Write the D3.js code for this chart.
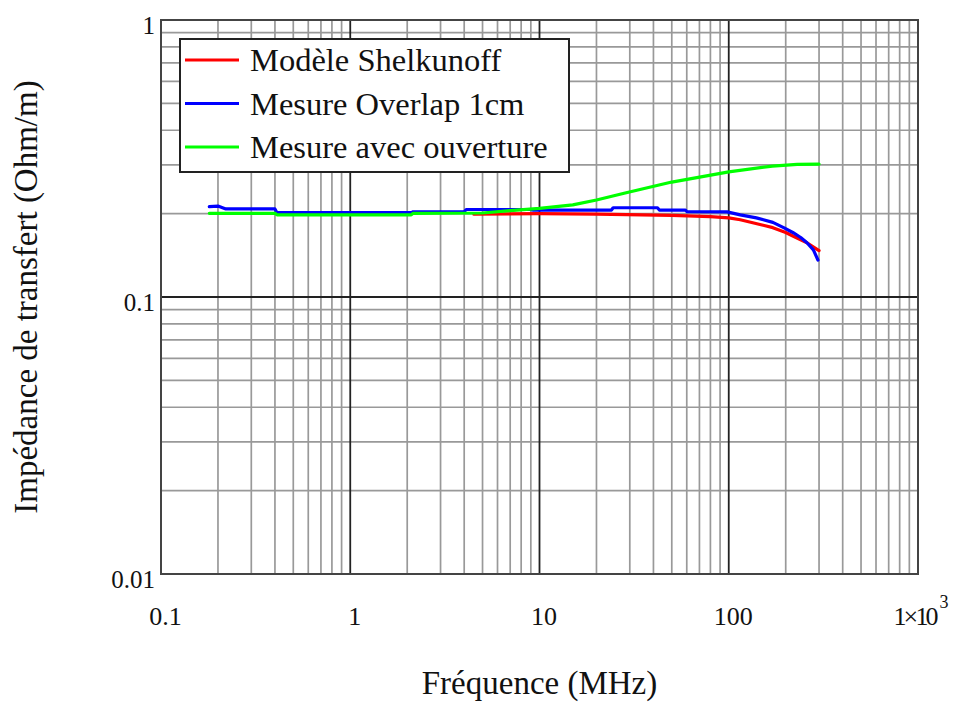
<!DOCTYPE html>
<html>
<head>
<meta charset="utf-8">
<script src="https://cdn.jsdelivr.net/npm/d3@7"></script>
<style>
  html, body { margin: 0; padding: 0; background: #fff; }
  svg { display: block; font-family: "Liberation Serif", "Times New Roman", serif; }
</style>
</head>
<body>
<svg id="chart" width="960" height="702"></svg>
<script>
// ---- Data ----
const seriesNames = ["Modèle Shelkunoff", "Mesure Overlap 1cm", "Mesure avec ouverture"];
const seriesColors = ["#ff0000", "#0000ff", "#00ff00"];

// Modèle Shelkunoff (red)
const freqRed = [4.5, 10, 20, 50, 80, 100, 115, 150, 171, 200, 218, 259, 300];
const zRed    = [0.199, 0.200, 0.199, 0.197, 0.195, 0.193, 0.190, 0.182, 0.178, 0.171, 0.166, 0.157, 0.147];

// Mesure Overlap 1cm (blue)
const freqBlue = [0.18, 0.2, 0.22, 0.4, 0.41, 2.1, 2.15, 4.0, 4.1, 9.0, 9.2, 24, 24.5, 42, 43, 59, 60, 98, 115, 140, 171, 195, 218, 240, 259, 280, 296];
const zBlue    = [0.212, 0.213, 0.208, 0.208, 0.2015, 0.2015, 0.203, 0.203, 0.207, 0.207, 0.206, 0.206, 0.210, 0.210, 0.206, 0.206, 0.2035, 0.2030, 0.198, 0.193, 0.186, 0.178, 0.171, 0.164, 0.157, 0.148, 0.136];

// Mesure avec ouverture (green)
const freqGreen = [0.18, 0.4, 0.41, 2.1, 2.15, 5, 7, 10, 15, 20, 28, 50, 100, 170, 230, 300];
const zGreen    = [0.2005, 0.2005, 0.198, 0.198, 0.2005, 0.201, 0.205, 0.209, 0.215, 0.224, 0.237, 0.260, 0.283, 0.297, 0.301, 0.302];

// Tick labels
const xTickValues = [0.1, 1, 10, 100, 1000];
const xTickLabels = ["0.1", "1", "10", "100", "1×10"];
const xLastExponent = "3";
const yTickValues = [0.01, 0.1, 1];
const yTickLabels = ["0.01", "0.1", "1"];

const xTitle = "Fréquence (MHz)";
const yTitle = "Impédance de transfert (Ohm/m)";

// ---- Layout ----
const svg = d3.select("#chart");
const pLeft = 161, pTop = 20, pRight = 918, pBottom = 574;

const x = d3.scaleLog().domain([0.1, 1000]).range([pLeft, pRight]);
const y = d3.scaleLog().domain([0.01, 1]).range([pBottom, pTop]);

// minor & major grid values
const xMinor = [], yMinor = [];
[0.1, 1, 10, 100].forEach(d => { for (let k = 2; k <= 9; k++) xMinor.push(d * k); });
[0.01, 0.1].forEach(d => { for (let k = 2; k <= 9; k++) yMinor.push(d * k); });

const grid = svg.append("g");
grid.selectAll("line.xmin").data(xMinor).join("line")
  .attr("x1", d => x(d)).attr("x2", d => x(d))
  .attr("y1", pTop).attr("y2", pBottom)
  .attr("stroke", "#999").attr("stroke-width", 1.7);
grid.selectAll("line.ymin").data(yMinor).join("line")
  .attr("x1", pLeft).attr("x2", pRight)
  .attr("y1", d => y(d)).attr("y2", d => y(d))
  .attr("stroke", "#999").attr("stroke-width", 1.7);
grid.selectAll("line.xmaj").data(xTickValues).join("line")
  .attr("x1", d => x(d)).attr("x2", d => x(d))
  .attr("y1", pTop).attr("y2", pBottom)
  .attr("stroke", "#222").attr("stroke-width", 1.8);
grid.selectAll("line.ymaj").data(yTickValues).join("line")
  .attr("x1", pLeft).attr("x2", pRight)
  .attr("y1", d => y(d)).attr("y2", d => y(d))
  .attr("stroke", "#222").attr("stroke-width", 1.8);

// frame
svg.append("rect")
  .attr("x", pLeft).attr("y", pTop)
  .attr("width", pRight - pLeft).attr("height", pBottom - pTop)
  .attr("fill", "none").attr("stroke", "#444").attr("stroke-width", 2);

// ---- Series ----
const line = d3.line().x(d => x(d[0])).y(d => y(d[1]));
const series = [
  d3.zip(freqRed, zRed),
  d3.zip(freqBlue, zBlue),
  d3.zip(freqGreen, zGreen)
];
svg.append("g").selectAll("path").data(series).join("path")
  .attr("d", line)
  .attr("fill", "none")
  .attr("stroke", (d, i) => seriesColors[i])
  .attr("stroke-width", 3.2)
  .attr("stroke-linejoin", "round")
  .attr("stroke-linecap", "round");

// ---- Axes labels (ticks) ----
const xAxis = d3.axisBottom(x).tickValues(xTickValues).tickSize(0)
  .tickFormat((d, i) => xTickLabels[i]);
const gx = svg.append("g").attr("transform", `translate(4,${pBottom + 42})`).call(xAxis);
gx.select(".domain").remove();
gx.selectAll("text")
  .attr("font-family", "Liberation Serif, serif")
  .attr("font-size", 26).attr("fill", "#111").attr("dy", "0.35em").attr("y", 0);
// last label: 1×10 followed by a superscript exponent
const lastTick = gx.selectAll("text").filter((d, i) => i === xTickLabels.length - 1)
  .attr("text-anchor", "start").attr("x", -29)
  .attr("textLength", 45).attr("lengthAdjust", "spacing");
const lastNode = lastTick.node();
const lastParent = d3.select(lastNode.parentNode);
const bb = lastNode.getBBox();
lastParent.append("text")
  .attr("x", bb.x + bb.width + 1).attr("y", bb.y + 6)
  .attr("text-anchor", "start")
  .attr("font-family", "Liberation Serif, serif")
  .attr("font-size", 18).attr("fill", "#111")
  .text(xLastExponent);

const yAxis = d3.axisLeft(y).tickValues(yTickValues).tickSize(0)
  .tickFormat((d, i) => yTickLabels[i]);
const gy = svg.append("g").attr("transform", `translate(${pLeft - 6},5)`).call(yAxis);
gy.select(".domain").remove();
gy.selectAll("text")
  .attr("font-family", "Liberation Serif, serif")
  .attr("font-size", 25).attr("fill", "#111").attr("x", 0);

// ---- Axis titles ----
svg.append("text")
  .attr("x", (pLeft + pRight) / 2).attr("y", 686)
  .attr("text-anchor", "middle").attr("dominant-baseline", "middle")
  .attr("font-size", 33).attr("fill", "#111")
  .text(xTitle);

svg.append("text")
  .attr("transform", `translate(29,${(pTop + pBottom) / 2}) rotate(-90)`)
  .attr("text-anchor", "middle").attr("dominant-baseline", "middle")
  .attr("font-size", 33).attr("fill", "#111")
  .text(yTitle);

// ---- Legend ----
const lg = svg.append("g");
lg.append("rect")
  .attr("x", 180).attr("y", 39).attr("width", 389).attr("height", 133)
  .attr("fill", "#fff").attr("stroke", "#222").attr("stroke-width", 2);
const rows = lg.selectAll("g.row").data(seriesNames).join("g")
  .attr("transform", (d, i) => `translate(0,${60 + i * 43.5})`);
rows.append("line")
  .attr("x1", 185).attr("x2", 239).attr("y1", 0).attr("y2", 0)
  .attr("stroke", (d, i) => seriesColors[i]).attr("stroke-width", 3.2);
rows.append("text")
  .attr("x", 250).attr("y", 11)
  .attr("font-size", 32.5).attr("fill", "#111")
  .text(d => d);
</script>
</body>
</html>
